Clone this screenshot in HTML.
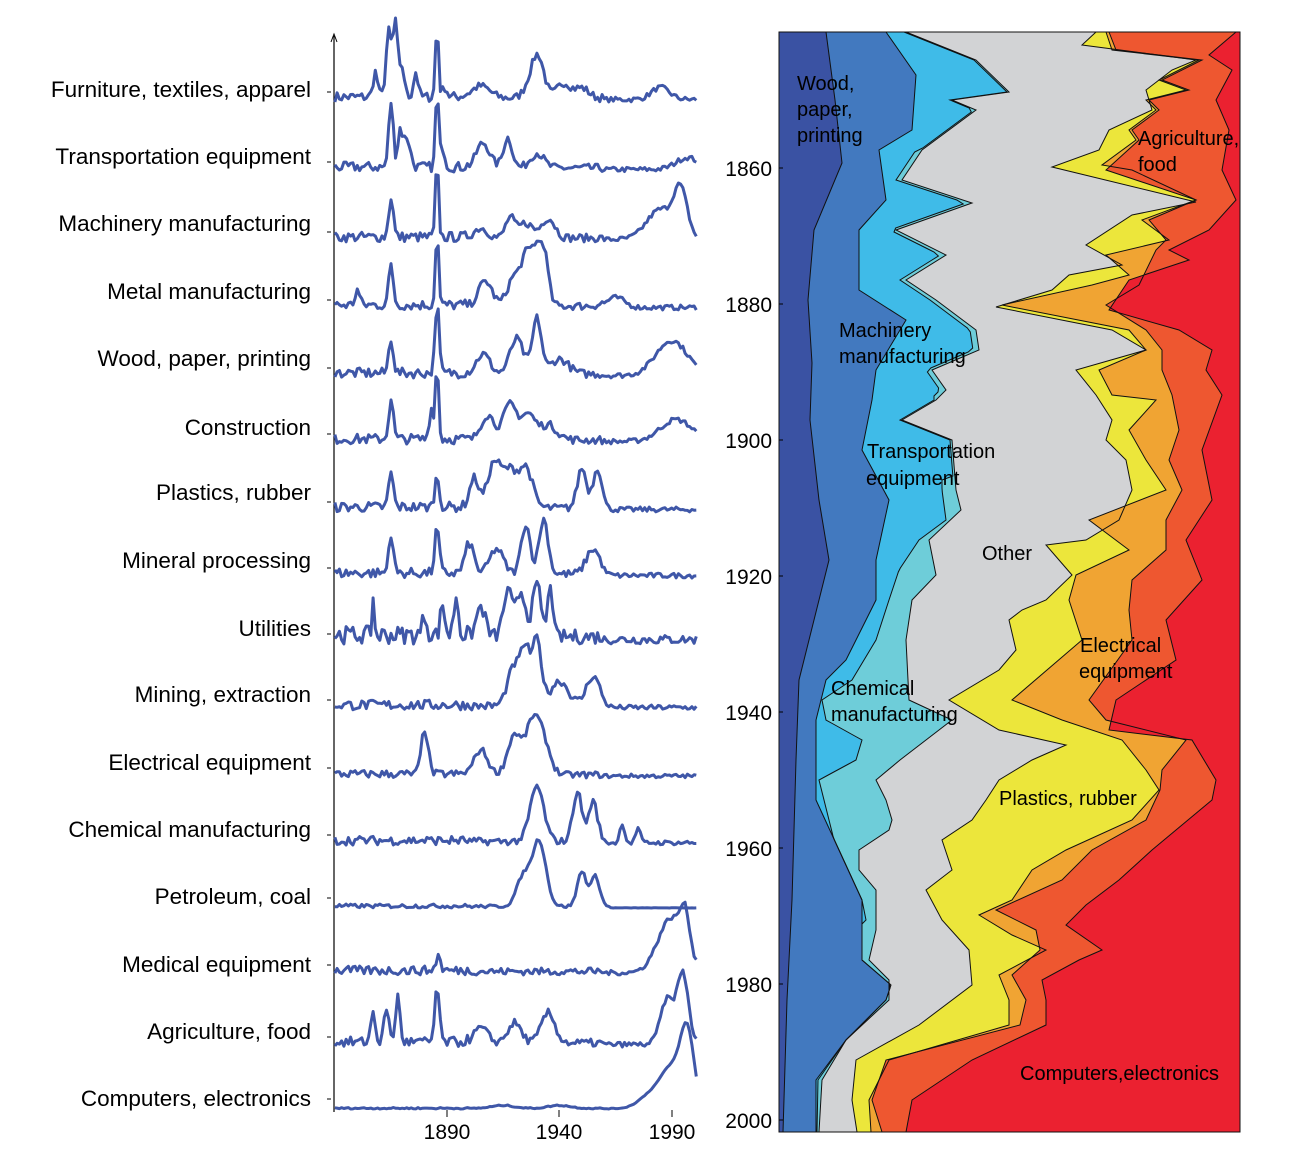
<!DOCTYPE html>
<html><head><meta charset="utf-8"><style>
html,body{margin:0;padding:0;background:#fff;}
svg{display:block;font-family:"Liberation Sans",Arial,sans-serif;}
</style></head><body>
<svg id="s" width="1290" height="1172" viewBox="0 0 1290 1172" xmlns="http://www.w3.org/2000/svg">
<g id="left"></g>
<g id="right"></g>
<g font-size="22.5" text-anchor="end" fill="#000">
<text x="311" y="97">Furniture, textiles, apparel</text>
<text x="311" y="164">Transportation equipment</text>
<text x="311" y="231">Machinery manufacturing</text>
<text x="311" y="299">Metal manufacturing</text>
<text x="311" y="366">Wood, paper, printing</text>
<text x="311" y="435">Construction</text>
<text x="311" y="500">Plastics, rubber</text>
<text x="311" y="568">Mineral processing</text>
<text x="311" y="636">Utilities</text>
<text x="311" y="702">Mining, extraction</text>
<text x="311" y="770">Electrical equipment</text>
<text x="311" y="837">Chemical manufacturing</text>
<text x="311" y="904">Petroleum, coal</text>
<text x="311" y="972">Medical equipment</text>
<text x="311" y="1039">Agriculture, food</text>
<text x="311" y="1106">Computers, electronics</text>
</g>
<g font-size="21" text-anchor="middle" fill="#000">
<text x="447" y="1139">1890</text>
<text x="559" y="1139">1940</text>
<text x="672" y="1139">1990</text>
</g>
<g font-size="21" text-anchor="end" fill="#000">
<text x="772" y="176">1860</text>
<text x="772" y="312">1880</text>
<text x="772" y="448">1900</text>
<text x="772" y="584">1920</text>
<text x="772" y="720">1940</text>
<text x="772" y="856">1960</text>
<text x="772" y="992">1980</text>
<text x="772" y="1128">2000</text>
</g>
<g font-size="20" fill="#000">
<text x="797" y="90">Wood,</text><text x="797" y="116">paper,</text><text x="797" y="142">printing</text>
<text x="1138" y="145">Agriculture,</text><text x="1138" y="171">food</text>
<text x="839" y="337">Machinery</text><text x="839" y="363">manufacturing</text>
<text x="867" y="458">Transportation</text><text x="866" y="485">equipment</text>
<text x="982" y="560">Other</text>
<text x="1080" y="652">Electrical</text><text x="1079" y="678">equipment</text>
<text x="831" y="695">Chemical</text><text x="831" y="721">manufacturing</text>
<text x="999" y="805">Plastics, rubber</text>
<text x="1020" y="1080">Computers,electronics</text>
</g>
</svg>
<script>
var NS="http://www.w3.org/2000/svg";
function el(p,t,a){var e=document.createElementNS(NS,t);for(var k in a)e.setAttribute(k,a[k]);p.insertBefore?p.appendChild(e):0;return e;}
var seed=7;function rnd(){seed=(seed*16807)%2147483647;return seed/2147483647;}
var L=document.getElementById('left');
el(L,'line',{x1:334,y1:36,x2:334,y2:1112,stroke:'#000','stroke-width':1.2});
el(L,'path',{d:'M331,42 L334,34 L337,42',fill:'none',stroke:'#000','stroke-width':1});
[447,559,672].forEach(function(x){el(L,'line',{x1:x,y1:1110,x2:x,y2:1117,stroke:'#000','stroke-width':1});});
var S=[
[102,[[1858,25,1],[1864,65,1.2],[1867,75,1],[1870,30,1],[1876,25,1],[1885.5,72,0.7],[1889,10,1],[1905,12,4],[1928,20,3],[1931,30,2.5],[1942,15,3],[1950,10,3],[1985,12,4]],1],
[172,[[1865,65,1],[1869,35,1],[1872,30,1.5],[1885.5,75,0.7],[1888,20,1],[1906,25,3],[1917,30,2],[1930,15,3],[1997,12,5]],1],
[242,[[1865,40,1],[1885.5,75,0.7],[1905,10,3],[1918,20,2],[1925,15,3],[1935,20,3],[1985,30,6],[1994,45,3]],1],
[310,[[1850,15,1],[1865,40,1],[1885.5,75,0.7],[1907,25,3],[1920,30,3],[1925,40,2],[1929,50,2],[1933,55,2],[1965,10,4]],1],
[378,[[1865,35,1],[1885.5,70,0.9],[1906,20,3],[1921,35,3],[1930,55,2],[1940,15,4],[1990,35,7]],1],
[444,[[1865,40,1],[1883,30,1],[1885.5,75,0.7],[1908,25,3],[1918,35,3],[1926,25,3],[1935,15,4],[1992,22,7]],1],
[512,[[1865,35,1],[1885.5,30,1],[1902,30,2],[1911,45,3],[1918,35,3],[1925,40,3],[1950,40,2],[1957,40,2]],1],
[578,[[1865,40,1],[1885.5,45,1],[1900,30,2],[1912,25,3],[1925,50,2],[1933,55,2],[1955,25,3]],1],
[644,[[1857,38,0.5],[1880,20,1],[1888,30,1],[1894,40,1],[1905,30,2],[1917,45,2],[1923,45,2],[1930,50,2],[1936,55,1]],1.8],
[710,[[1920,40,3],[1925,50,2],[1930,65,2],[1940,25,4],[1955,30,3]],1],
[778,[[1880,45,1.5],[1905,25,3],[1920,40,3],[1928,50,3],[1933,30,3]],0.8],
[845,[[1930,55,3],[1948,50,2],[1955,40,2],[1968,20,1],[1975,15,1]],0.9],
[908,[[1924,30,3],[1931,65,3],[1950,35,2],[1956,30,2]],0.4],
[975,[[1886,15,1],[1990,55,6],[1996,35,2]],0.9],
[1047,[[1857,30,1],[1863,35,1],[1868,45,1],[1885.5,55,1],[1905,15,3],[1920,20,3],[1935,30,3],[1988,45,3],[1995,70,2.5]],1],
[1109,[[1915,3,5],[1940,3,5],[1980,12,5],[1990,40,5],[1997,70,3]],0.15]
];
S.forEach(function(s){
  var d='';
  for(var y=1840;y<=2001;y+=1){
    var h=0;s[1].forEach(function(p){var z=(y-p[0])/p[2];h+=p[1]*Math.exp(-z*z/2);});
    var amp=(y<1900?10:(y<1960?8:5))*s[2];
    if(s[0]==908&&y>1962)amp=0.2;
    h+=rnd()*amp;
    var x=334+(y-1839.6)*2.245;
    d+=(d?'L':'M')+x.toFixed(1)+','+(s[0]-h).toFixed(1);
  }
  el(L,'path',{d:d,fill:'none',stroke:'#3f57a8','stroke-width':3,'stroke-linejoin':'round'});
  el(L,'line',{x1:327,y1:s[0]-10,x2:331,y2:s[0]-10,stroke:'#000','stroke-width':1});
});
var R=document.getElementById('right');
var B=[
[[32,826],[100,835],[163,842],[230,814],[300,808],[363,812],[420,810],[500,819],[560,829],[600,819],[680,799],[760,796],[900,792],[1000,787],[1132,783]],
[[32,886],[75,916],[130,912],[150,879],[200,886],[230,859],[290,859],[320,906],[370,876],[400,872],[450,862],[500,889],[560,876],[600,876],[660,846],[680,826],[720,816],[800,816],[850,839],[900,862],[960,862],[985,891],[1000,886],[1040,846],[1080,816],[1132,816]],
null,
[[32,906],[60,976],[92,1009],[100,952],[110,976],[150,922],[180,902],[203,972],[230,896],[255,946],[280,906],[300,936],[330,976],[350,979],[370,932],[390,946],[400,936],[420,902],[440,952],[490,956],[510,961],[540,929],[575,936],[600,912],[640,906],[700,909],[720,952],[760,900],[780,876],[800,886],[820,892],[830,889],[850,859],[870,859],[890,876],[930,876],[960,869],[980,889],[1000,889],[1040,846],[1080,822],[1132,819]],
[[32,1096],[45,1082],[60,1196],[70,1172],[90,1146],[110,1152],[130,1109],[150,1099],[167,1052],[202,1196],[215,1132],[245,1086],[265,1122],[275,1069],[290,1052],[307,996],[330,1112],[350,1146],[370,1076],[395,1096],[420,1112],[440,1106],[460,1126],[490,1132],[520,1119],[540,1086],[545,1046],[575,1072],[600,1046],[610,1022],[620,1009],[650,1016],[670,999],[700,949],[730,999],[745,1066],[760,1032],[780,999],[800,986],[820,972],[840,942],[870,952],[890,926],[920,942],[950,969],[985,972],[1025,919],[1060,856],[1100,852],[1132,857]],
[[32,1106],[50,1112],[60,1199],[80,1159],[90,1186],[100,1146],[110,1156],[130,1129],[140,1136],[165,1102],[170,1132],[200,1196],[220,1142],[240,1169],[255,1106],[275,1129],[285,1092],[305,1002],[330,1129],[350,1146],[370,1099],[395,1112],[400,1156],[430,1129],[460,1146],[490,1166],[520,1089],[550,1129],[575,1076],[600,1069],[640,1082],[700,1012],[720,1062],[740,1122],[770,1146],[790,1159],[820,1132],[850,1066],[870,1032],[900,1012],[915,979],[935,1012],[950,1046],[975,999],[1000,1009],[1025,1009],[1060,889],[1100,869],[1132,871]],
[[32,1109],[50,1116],[60,1202],[80,1162],[90,1189],[100,1149],[110,1159],[130,1132],[140,1139],[170,1106],[200,1196],[220,1149],[240,1166],[250,1156],[285,1139],[305,1106],[330,1146],[350,1162],[370,1162],[395,1172],[430,1179],[460,1169],[490,1182],[520,1166],[550,1166],[580,1132],[610,1129],[640,1132],[700,1089],[720,1106],[740,1186],[770,1162],[790,1160],[820,1146],[850,1092],[880,1062],[910,996],[930,1036],[950,1040],[975,1012],[1000,1026],[1025,1020],[1060,886],[1100,872],[1132,882]],
[[32,1236],[55,1209],[70,1232],[100,1216],[130,1229],[170,1222],[200,1236],[230,1209],[250,1169],[260,1189],[280,1129],[310,1109],[330,1179],[350,1212],[370,1206],[395,1222],[450,1202],[500,1212],[540,1186],[580,1202],[620,1166],[660,1176],[700,1116],[730,1109],[740,1192],[780,1216],[800,1212],[850,1152],[880,1119],[905,1086],[925,1066],[950,1102],[960,1079],[980,1042],[1000,1046],[1025,1046],[1060,972],[1100,912],[1132,906]]
];
function interp(pts,y){for(var i=1;i<pts.length;i++){if(y<=pts[i][0]){var a=pts[i-1],b=pts[i];return a[1]+(b[1]-a[1])*(y-a[0])/(b[0]-a[0]);}}return pts[pts.length-1][1];}
var b3=[];var b4=B[3],b2=B[1];
var c3=[[480,942],[490,942],[520,946],[540,919],[570,899],[600,889],[640,876],[680,852],[700,822],[720,826],[740,862],[760,856],[780,819],[860,839],[900,862],[920,866],[930,839],[950,849],[965,846],[985,891],[1040,846],[1080,818],[1132,817]];
for(var y=32;y<=1132;y+=4){var v4=interp(b4,y),v2=interp(b2,y),v;
 if(y<480){v=v4-(y>150&&y<400?6:2);}else v=interp(c3,y);
 v=Math.max(v2,Math.min(v4,v));b3.push([y,v]);}
B[2]=b3;
// add small jagged jitter to boundaries (consistent ordering)
var Bj=B.map(function(pts){return pts;});
var cols=['#3a52a3','#4279bf','#3fbbe8','#6ecdd9','#d2d3d5','#ece63b','#f0a433','#ee5730','#eb2130'];
var bounds=[[[32,779],[1132,779]]].concat(Bj).concat([[[32,1240],[1132,1240]]]);
for(var i=0;i<9;i++){
 var a=bounds[i],b=bounds[i+1];var d='';
 a.forEach(function(p,k){d+=(k?'L':'M')+p[1]+','+p[0];});
 for(var k=b.length-1;k>=0;k--)d+='L'+b[k][1]+','+b[k][0];
 d+='Z';
 el(R,'path',{d:d,fill:cols[i],stroke:'none'});
}
for(var i=0;i<8;i++){var d='';Bj[i].forEach(function(p,k){d+=(k?'L':'M')+p[1]+','+p[0];});
 el(R,'path',{d:d,fill:'none',stroke:'#111','stroke-width':1});}
el(R,'rect',{x:779,y:32,width:461,height:1100,fill:'none',stroke:'#111','stroke-width':1});
[168,304,440,576,712,848,984,1120].forEach(function(y){el(R,'line',{x1:779,y1:y,x2:783,y2:y,stroke:'#000','stroke-width':1});});
</script>
</body></html>
